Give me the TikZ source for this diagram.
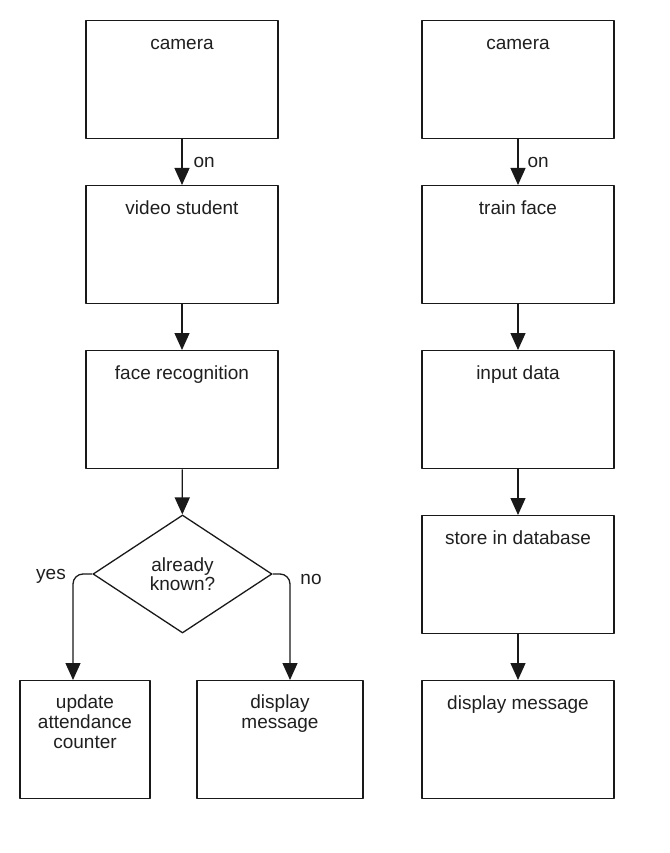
\documentclass[tikz,border=0pt]{standalone}
\usepackage{fontspec}
\setmainfont{Liberation Sans}
\usetikzlibrary{arrows.meta,shapes.geometric}
\begin{document}
\begin{tikzpicture}[x=1pt,y=-1pt,line join=round,
		stepbox/.style={draw=black!90,line width=1.3pt,minimum width=192pt,minimum height=118pt,anchor=north,inner sep=0pt},
		steptext/.style={anchor=north,align=center,inner sep=0pt,text=black!88,font=\fontsize{19}{20}\selectfont,execute at begin node=\strut,yshift=-15pt},
		decision/.style={draw=black!90,line width=1.3pt,diamond,aspect=1.5,inner sep=0pt,minimum width=179pt,minimum height=118pt,align=center,text=black!88,font=\fontsize{19}{19}\selectfont},
		edgelabel/.style={text=black!88,font=\fontsize{19}{20}\selectfont,inner sep=0pt},
		arr/.style={draw=black!90,line width=1.3pt,-{Triangle[length=17pt,width=15pt]}}]
	\useasboundingbox (0,0) rectangle (669,853);
	\node[stepbox] (camL) at (182,20) {};
	\node[stepbox] (vidL) at (182,185) {};
	\node[stepbox] (facL) at (182,350) {};
	\node[decision] (known) at (182.5,574) {already\\known?};
	\node[stepbox,minimum width=130pt] (updL) at (85,680) {};
	\node[stepbox,minimum width=166pt] (dispL) at (280,680) {};
	\node[stepbox] (camR) at (518,20) {};
	\node[stepbox] (trnR) at (518,185) {};
	\node[stepbox] (inpR) at (518,350) {};
	\node[stepbox] (stoR) at (518,515) {};
	\node[stepbox] (dspR) at (518,680) {};
	\node[steptext] (camLt) at (camL.north) {camera};
	\node[steptext] (vidLt) at (vidL.north) {video student};
	\node[steptext] (facLt) at (facL.north) {face recognition};
	\node[steptext] (updLt) at (updL.north) {update\\attendance\\counter};
	\node[steptext] (dispLt) at (dispL.north) {display\\message};
	\node[steptext] (camRt) at (camR.north) {camera};
	\node[steptext] (trnRt) at (trnR.north) {train face};
	\node[steptext] (inpRt) at (inpR.north) {input data};
	\node[steptext] (stoRt) at (stoR.north) {store in database};
	\node[steptext] (dspRt) at (dspR.north) {display message};
	\draw[arr] (camL) -- node[edgelabel,right=11pt] (onL) {on} (vidL);
	\draw[arr] (vidL) -- (facL);
	\draw[arr] (facL) -- (known);
	\draw[arr,rounded corners=10pt] (known.west) -| ([xshift=-12pt]updL.north);
	\draw[arr,rounded corners=10pt] (known.east) -| ([xshift=10pt]dispL.north);
	\node[edgelabel] (yes) at (51,576) {yes};
	\node[edgelabel] (no) at (311,579) {no};
	\draw[arr] (camR) -- node[edgelabel,right=9pt] (onR) {on} (trnR);
	\draw[arr] (trnR) -- (inpR);
	\draw[arr] (inpR) -- (stoR);
	\draw[arr] (stoR) -- (dspR);
\end{tikzpicture}
\end{document}
